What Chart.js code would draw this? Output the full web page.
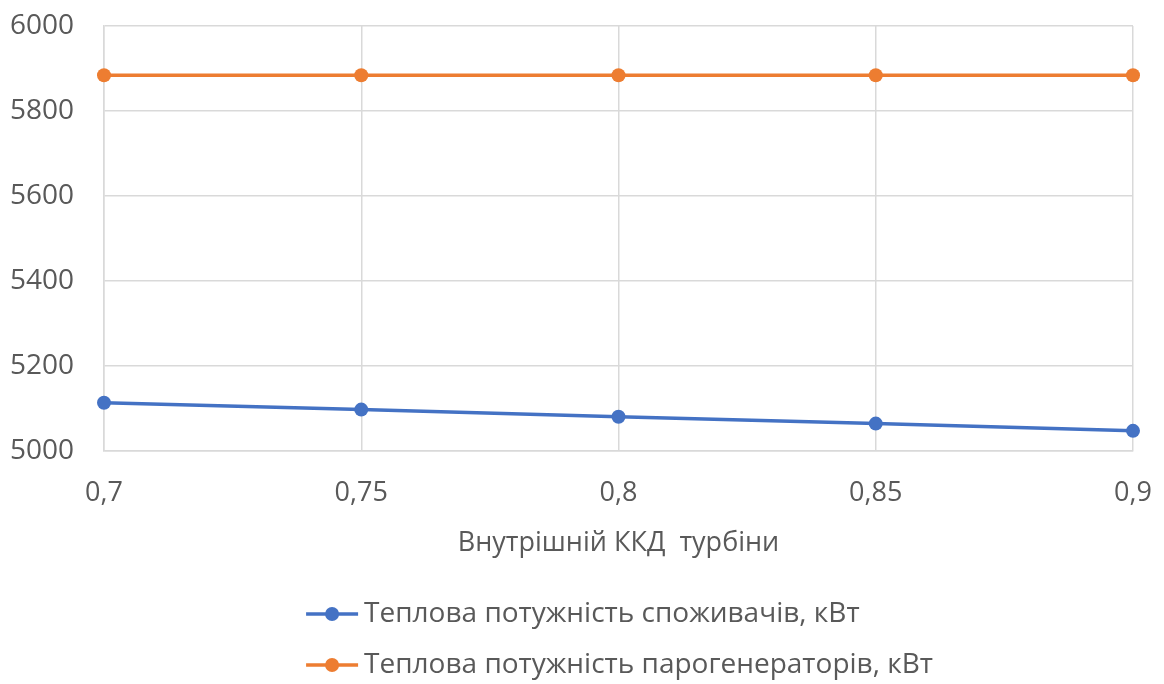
<!DOCTYPE html>
<html>
<head>
<meta charset="utf-8">
<script src="https://cdn.jsdelivr.net/npm/chart.js@4"></script>
<style>
    html, body { margin: 0; padding: 0; background: #ffffff; }
    #wrap { width: 1164px; height: 684px; }
</style>
</head>
<body>
<div id="wrap"><canvas id="efficiencyChart" width="1164" height="684"></canvas></div>
<script>
const efficiencyLabels = ["0,7", "0,75", "0,8", "0,85", "0,9"];
const consumerHeat = [5113, 5097, 5080, 5064, 5047];
const steamGenHeat = [5884, 5884, 5884, 5884, 5884];
const yTicks = [5000, 5200, 5400, 5600, 5800, 6000];

const seriesNames = [
    "Теплова потужність споживачів, кВт",
    "Теплова потужність парогенераторів, кВт"
];
const xTitle = "Внутрішній ККД  турбіни";

const FONT = "'Open Sans', sans-serif";
const TEXT_COLOR = "#595959";
const GRID_COLOR = "#d9d9d9";

// legend drawn as two stacked rows, left aligned, under the axis title
const stackedLegend = {
    id: "stackedLegend",
    afterDraw(chart) {
        const ctx = chart.ctx;
        const area = chart.chartArea;
        const top = chart.scales.x.bottom + 54;
        const rowGap = 51;
        ctx.save();
        ctx.font = "28px " + FONT;
        ctx.textBaseline = "middle";
        let maxW = 0;
        chart.data.datasets.forEach(ds => {
            maxW = Math.max(maxW, ctx.measureText(ds.label).width);
        });
        const blockW = 58 + maxW;
        const x0 = (area.left + area.right) / 2 - blockW / 2 + 1;
        chart.data.datasets.forEach((ds, i) => {
            const y = top + i * rowGap;
            ctx.strokeStyle = ds.borderColor;
            ctx.lineWidth = 3.5;
            ctx.beginPath();
            ctx.moveTo(x0, y);
            ctx.lineTo(x0 + 52, y);
            ctx.stroke();
            ctx.fillStyle = ds.borderColor;
            ctx.beginPath();
            ctx.arc(x0 + 26, y, 7, 0, Math.PI * 2);
            ctx.fill();
            ctx.fillStyle = TEXT_COLOR;
            ctx.fillText(ds.label, x0 + 58, y);
        });
        ctx.restore();
    }
};

const ctx = document.getElementById("efficiencyChart").getContext("2d");

new Chart(ctx, {
    type: "line",
    data: {
        labels: efficiencyLabels,
        datasets: [
            {
                label: seriesNames[0],
                data: consumerHeat,
                borderColor: "#4472C4",
                backgroundColor: "#4472C4",
                borderWidth: 3.5,
                pointRadius: 7,
                pointBackgroundColor: "#4472C4",
                pointBorderWidth: 0,
                tension: 0
            },
            {
                label: seriesNames[1],
                data: steamGenHeat,
                borderColor: "#ED7D31",
                backgroundColor: "#ED7D31",
                borderWidth: 3.5,
                pointRadius: 7,
                pointBackgroundColor: "#ED7D31",
                pointBorderWidth: 0,
                tension: 0
            }
        ]
    },
    options: {
        responsive: false,
        animation: false,
        layout: {
            padding: { top: 26, right: 31, left: 10, bottom: 124 }
        },
        plugins: {
            legend: { display: false },
            tooltip: { enabled: false }
        },
        scales: {
            x: {
                offset: false,
                grid: {
                    color: GRID_COLOR,
                    lineWidth: 1.5,
                    drawTicks: false
                },
                border: { color: GRID_COLOR, width: 1.5 },
                ticks: {
                    color: TEXT_COLOR,
                    font: { family: FONT, size: 27, lineHeight: 2.4 },
                    padding: 10,
                    maxRotation: 0
                },
                title: {
                    display: true,
                    text: xTitle,
                    color: TEXT_COLOR,
                    font: { family: FONT, size: 27 },
                    padding: { top: -8, bottom: 0 }
                }
            },
            y: {
                min: 5000,
                max: 6000,
                afterBuildTicks(scale) {
                    scale.ticks = yTicks.map(v => ({ value: v }));
                },
                grid: {
                    color: GRID_COLOR,
                    lineWidth: 1.5,
                    drawTicks: false
                },
                border: { color: GRID_COLOR, width: 1.5 },
                ticks: {
                    color: TEXT_COLOR,
                    font: { family: FONT, size: 28 },
                    padding: 0,
                    crossAlign: "far",
                    callback: v => String(v)
                },
                afterFit(scale) {
                    scale.width = 94;
                }
            }
        }
    },
    plugins: [stackedLegend]
});
</script>
</body>
</html>
